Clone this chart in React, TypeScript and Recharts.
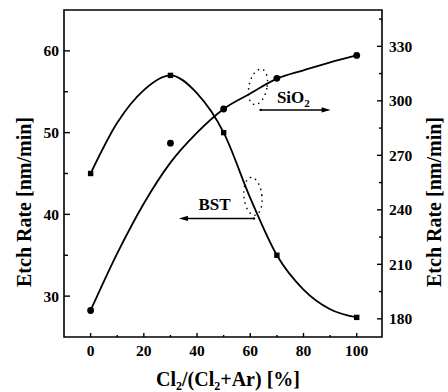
import {
  ComposedChart,
  Line,
  Scatter,
  XAxis,
  YAxis,
  ReferenceArea,
  ReferenceLine,
  ReferenceDot,
  Label,
} from "recharts";

// fitted curves, every 10 %
const fitX = [0, 10, 20, 30, 40, 50, 60, 70, 80, 90, 100];
const bstFit = [45, 51.2, 55.2, 57, 54.8, 50, 42, 35, 30.8, 28.4, 27.4];
const sio2Fit = [184.6, 216, 243.5, 266, 282.5, 295.5, 304, 312.2, 316.8, 321.2, 325];

// measured points
const pointX = [0, 30, 50, 70, 100];
const bstPoints = [45, 57, 50, 35, 27.4];
const sio2Points = [184.6, 276.7, 295.5, 312.4, 325];

const xTicks = [0, 10, 20, 30, 40, 50, 60, 70, 80, 90, 100];
const leftTicks = [30, 35, 40, 45, 50, 55, 60];
const rightTicks = [180, 195, 210, 225, 240, 255, 270, 285, 300, 315, 330, 345];

const fitData = fitX.map((x, i) => ({ x, bst: bstFit[i], sio2: sio2Fit[i] }));
const pointData = pointX.map((x, i) => ({ x, bst: bstPoints[i], sio2: sio2Points[i] }));

const INK = "#000";
const FAMILY = "Liberation Serif";

function T({ size, children, ...rest }: any) {
  return (
    <text {...rest} fontFamily={FAMILY} fontWeight="bold" fontSize={size} fill={INK}>
      {children}
    </text>
  );
}

function XTick({ x, y, payload }: any) {
  const v = payload.value;
  const major = v % 20 === 0;
  return (
    <g>
      <line x1={x} y1={y} x2={x} y2={y - (major ? 4 : 2)} stroke={INK} strokeWidth={1.4} />
      {major && (
        <T x={x} y={y + 18.5} textAnchor="middle" size={15.5}>
          {v}
        </T>
      )}
    </g>
  );
}

function LeftTick({ x, y, payload }: any) {
  const v = payload.value;
  const major = v % 10 === 0;
  return (
    <g>
      <line x1={x} y1={y} x2={x + (major ? 6 : 4)} y2={y} stroke={INK} strokeWidth={1.4} />
      {major && (
        <T x={x - 5} y={y + 5.5} textAnchor="end" size={15.5}>
          {v}
        </T>
      )}
    </g>
  );
}

function RightTick({ x, y, payload }: any) {
  const v = payload.value;
  const major = v % 30 === 0;
  return (
    <g>
      <line x1={x} y1={y} x2={x - (major ? 5 : 3)} y2={y} stroke={INK} strokeWidth={1.4} />
      {major && (
        <T x={x + 7} y={y + 5.5} textAnchor="start" size={15.5}>
          {v}
        </T>
      )}
    </g>
  );
}

function XTitle({ viewBox }: any) {
  const cx = viewBox.x + viewBox.width / 2 + 5;
  const y = viewBox.y + 49;
  return (
    <T x={cx} y={y} textAnchor="middle" size={20}>
      Cl<tspan fontSize={12} dy={4}>2</tspan>
      <tspan dy={-4}>/(Cl</tspan>
      <tspan fontSize={12} dy={4}>2</tspan>
      <tspan dy={-4}>+Ar) [%]</tspan>
    </T>
  );
}

function YTitle({ viewBox, dx }: any) {
  const cx = viewBox.x + dx;
  const cy = viewBox.y + viewBox.height / 2 + 28.5;
  return (
    <T
      x={cx}
      y={cy}
      textAnchor="middle"
      dominantBaseline="central"
      transform={`rotate(-90 ${cx} ${cy})`}
      size={20}
    >
      Etch Rate [nm/min]
    </T>
  );
}

const SquareDot = ({ cx, cy }: any) => <rect x={cx - 2.7} y={cy - 2.7} width={5.4} height={5.4} fill={INK} />;
const RoundDot = ({ cx, cy }: any) => <circle cx={cx} cy={cy} r={3.4} fill={INK} />;

function Arrow({ x1, y1, x2, y2 }: any) {
  const dir = x2 > x1 ? 1 : -1;
  return (
    <g>
      <line x1={x1} y1={y1} x2={x2 - dir * 6} y2={y2} stroke={INK} strokeWidth={1.5} />
      <polygon points={`${x2},${y2} ${x2 - dir * 9},${y2 - 2.6} ${x2 - dir * 9},${y2 + 2.6}`} fill={INK} />
      <circle cx={x1} cy={y1} r={1.2} fill={INK} />
    </g>
  );
}

const dottedEllipse = (rx: number, ry: number, rot: number) => ({ cx, cy }: any) => (
  <ellipse
    cx={cx}
    cy={cy}
    rx={rx}
    ry={ry}
    transform={`rotate(${rot} ${cx} ${cy})`}
    fill="none"
    stroke={INK}
    strokeWidth={1.6}
    strokeDasharray="0.1 5.5"
    strokeLinecap="round"
  />
);

const SiO2Text = ({ cx, cy }: any) => (
  <T x={cx} y={cy} size={17}>
    SiO<tspan fontSize={11} dy={4}>2</tspan>
  </T>
);

const BSTText = ({ cx, cy }: any) => (
  <T x={cx} y={cy} size={17}>
    BST
  </T>
);

export default function App() {
  return (
    <div
      style={{
        position: "absolute",
        left: 0,
        top: 0,
        width: 448,
        height: 392,
        background: "#fff",
        fontFamily: FAMILY,
      }}
    >
      <ComposedChart width={448} height={392} margin={{ top: 10, right: 10, bottom: 10, left: 10 }}>
        <XAxis
          dataKey="x"
          type="number"
          domain={[-10, 109.5]}
          ticks={xTicks}
          interval={0}
          tick={<XTick />}
          tickSize={0}
          tickMargin={0}
          tickLine={false}
          axisLine={false}
          height={45}
          allowDataOverflow
        >
          <Label content={<XTitle />} />
        </XAxis>
        <YAxis
          yAxisId="left"
          type="number"
          domain={[25, 65]}
          ticks={leftTicks}
          interval={0}
          tick={<LeftTick />}
          tickSize={0}
          tickMargin={0}
          tickLine={false}
          axisLine={false}
          width={54}
          allowDataOverflow
        >
          <Label content={<YTitle dx={14} />} />
        </YAxis>
        <YAxis
          yAxisId="right"
          orientation="right"
          type="number"
          domain={[170, 350]}
          ticks={rightTicks}
          interval={0}
          tick={<RightTick />}
          tickSize={0}
          tickMargin={0}
          tickLine={false}
          axisLine={false}
          width={56}
          allowDataOverflow
        >
          <Label content={<YTitle dx={52} />} />
        </YAxis>

        <ReferenceArea
          yAxisId="left"
          x1={-10}
          x2={109.5}
          y1={25}
          y2={65}
          fill="none"
          fillOpacity={0}
          stroke={INK}
          strokeWidth={1.6}
          ifOverflow="visible"
        />

        <Line
          data={fitData}
          yAxisId="left"
          dataKey="bst"
          type="monotone"
          stroke={INK}
          strokeWidth={1.8}
          dot={false}
          activeDot={false}
          isAnimationActive={false}
        />
        <Line
          data={fitData}
          yAxisId="right"
          dataKey="sio2"
          type="monotone"
          stroke={INK}
          strokeWidth={1.8}
          dot={false}
          activeDot={false}
          isAnimationActive={false}
        />
        <Scatter data={pointData} yAxisId="left" dataKey="bst" shape={SquareDot} isAnimationActive={false} />
        <Scatter data={pointData} yAxisId="right" dataKey="sio2" shape={RoundDot} isAnimationActive={false} />

        <ReferenceLine
          yAxisId="right"
          segment={[
            { x: 63.9, y: 295 },
            { x: 90.2, y: 295 },
          ]}
          shape={Arrow}
          ifOverflow="visible"
        />
        <ReferenceLine
          yAxisId="left"
          segment={[
            { x: 61.4, y: 39.5 },
            { x: 33.2, y: 39.5 },
          ]}
          shape={Arrow}
          ifOverflow="visible"
        />
        <ReferenceDot yAxisId="right" x={62.9} y={307.7} shape={dottedEllipse(9, 18, 12)} ifOverflow="visible" />
        <ReferenceDot yAxisId="left" x={61.0} y={42.2} shape={dottedEllipse(9, 19, -6)} ifOverflow="visible" />
        <ReferenceDot yAxisId="right" x={70} y={298.9} shape={SiO2Text} ifOverflow="visible" />
        <ReferenceDot yAxisId="left" x={40.5} y={40.5} shape={BSTText} ifOverflow="visible" />
      </ComposedChart>
    </div>
  );
}
